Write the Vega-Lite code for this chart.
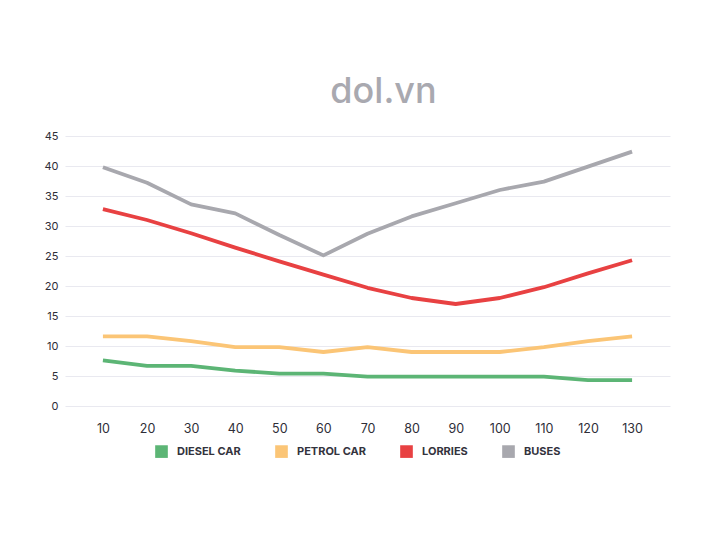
{
  "$schema": "https://vega.github.io/schema/vega-lite/v6.json",
  "autosize": "none",
  "width": 605,
  "height": 270,
  "padding": {"left": 65, "top": 136, "right": 42, "bottom": 128},
  "background": "white",
  "title": {
    "text": "dol.vn",
    "fontSize": 36,
    "font": "Inter",
    "fontWeight": 500,
    "color": "#a9a9b0",
    "anchor": "middle",
    "offset": 19,
    "dx": 16
  },
  "config": {
    "view": {"stroke": null},
    "font": "Inter"
  },
  "data": {
    "values": [
      {"speed": 10, "type": "DIESEL CAR", "value": 7.6},
      {"speed": 20, "type": "DIESEL CAR", "value": 6.7},
      {"speed": 30, "type": "DIESEL CAR", "value": 6.7},
      {"speed": 40, "type": "DIESEL CAR", "value": 5.9},
      {"speed": 50, "type": "DIESEL CAR", "value": 5.4},
      {"speed": 60, "type": "DIESEL CAR", "value": 5.4},
      {"speed": 70, "type": "DIESEL CAR", "value": 4.9},
      {"speed": 80, "type": "DIESEL CAR", "value": 4.9},
      {"speed": 90, "type": "DIESEL CAR", "value": 4.9},
      {"speed": 100, "type": "DIESEL CAR", "value": 4.9},
      {"speed": 110, "type": "DIESEL CAR", "value": 4.9},
      {"speed": 120, "type": "DIESEL CAR", "value": 4.3},
      {"speed": 130, "type": "DIESEL CAR", "value": 4.3},
      {"speed": 10, "type": "PETROL CAR", "value": 11.6},
      {"speed": 20, "type": "PETROL CAR", "value": 11.6},
      {"speed": 30, "type": "PETROL CAR", "value": 10.8},
      {"speed": 40, "type": "PETROL CAR", "value": 9.8},
      {"speed": 50, "type": "PETROL CAR", "value": 9.8},
      {"speed": 60, "type": "PETROL CAR", "value": 9.0},
      {"speed": 70, "type": "PETROL CAR", "value": 9.8},
      {"speed": 80, "type": "PETROL CAR", "value": 9.0},
      {"speed": 90, "type": "PETROL CAR", "value": 9.0},
      {"speed": 100, "type": "PETROL CAR", "value": 9.0},
      {"speed": 110, "type": "PETROL CAR", "value": 9.8},
      {"speed": 120, "type": "PETROL CAR", "value": 10.8},
      {"speed": 130, "type": "PETROL CAR", "value": 11.6},
      {"speed": 10, "type": "LORRIES", "value": 32.8},
      {"speed": 20, "type": "LORRIES", "value": 31.0},
      {"speed": 30, "type": "LORRIES", "value": 28.8},
      {"speed": 40, "type": "LORRIES", "value": 26.4},
      {"speed": 50, "type": "LORRIES", "value": 24.1},
      {"speed": 60, "type": "LORRIES", "value": 21.9},
      {"speed": 70, "type": "LORRIES", "value": 19.7},
      {"speed": 80, "type": "LORRIES", "value": 18.0},
      {"speed": 90, "type": "LORRIES", "value": 17.0},
      {"speed": 100, "type": "LORRIES", "value": 18.0},
      {"speed": 110, "type": "LORRIES", "value": 19.8},
      {"speed": 120, "type": "LORRIES", "value": 22.1},
      {"speed": 130, "type": "LORRIES", "value": 24.3},
      {"speed": 10, "type": "BUSES", "value": 39.8},
      {"speed": 20, "type": "BUSES", "value": 37.2},
      {"speed": 30, "type": "BUSES", "value": 33.6},
      {"speed": 40, "type": "BUSES", "value": 32.1},
      {"speed": 50, "type": "BUSES", "value": 28.5},
      {"speed": 60, "type": "BUSES", "value": 25.1},
      {"speed": 70, "type": "BUSES", "value": 28.7},
      {"speed": 80, "type": "BUSES", "value": 31.6},
      {"speed": 90, "type": "BUSES", "value": 33.8},
      {"speed": 100, "type": "BUSES", "value": 36.0},
      {"speed": 110, "type": "BUSES", "value": 37.4},
      {"speed": 120, "type": "BUSES", "value": 39.9},
      {"speed": 130, "type": "BUSES", "value": 42.4}
    ]
  },
  "mark": {"type": "line", "strokeWidth": 3.8, "strokeCap": "butt", "strokeJoin": "round"},
  "encoding": {
    "x": {
      "field": "speed",
      "type": "ordinal",
      "sort": null,
      "scale": {"type": "point", "padding": 0.86},
      "axis": {
        "title": null,
        "labelAngle": 0,
        "domain": false,
        "ticks": false,
        "grid": false,
        "labelFontSize": 12.5,
        "labelColor": "#2e2e38",
        "labelPadding": 16
      }
    },
    "y": {
      "field": "value",
      "type": "quantitative",
      "scale": {"domain": [0, 45]},
      "axis": {
        "title": null,
        "values": [0, 5, 10, 15, 20, 25, 30, 35, 40, 45],
        "domain": false,
        "ticks": false,
        "gridColor": "#e9e9f0",
        "gridWidth": 1,
        "labelFontSize": 11,
        "labelColor": "#2e2e38",
        "labelPadding": 7
      }
    },
    "color": {
      "field": "type",
      "type": "nominal",
      "sort": ["DIESEL CAR", "PETROL CAR", "LORRIES", "BUSES"],
      "scale": {
        "domain": ["DIESEL CAR", "PETROL CAR", "LORRIES", "BUSES"],
        "range": ["#5cb575", "#fbc576", "#e84142", "#a8a8ae"]
      },
      "legend": {
        "title": null,
        "orient": "none",
        "legendX": 90,
        "legendY": 309,
        "direction": "horizontal",
        "symbolType": "square",
        "symbolSize": 160,
        "symbolStrokeWidth": 0,
        "labelFontSize": 11,
        "labelFontWeight": "bold",
        "labelColor": "#33333d",
        "labelOffset": 9,
        "columnPadding": 34,
        "encode": {
          "symbols": {
            "update": {
              "fill": {"scale": "color", "field": "value"},
              "fillOpacity": {"value": 1}
            }
          }
        }
      }
    }
  }
}
